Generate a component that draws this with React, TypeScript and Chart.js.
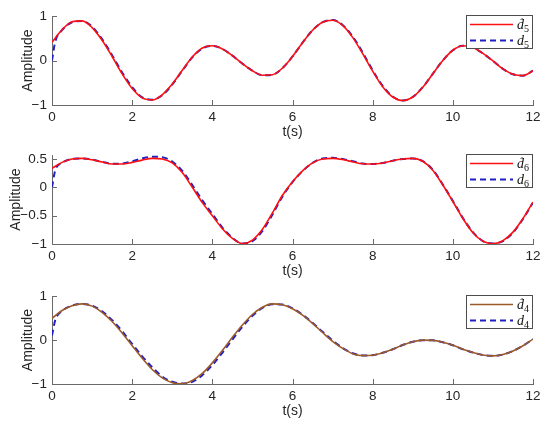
import React, { useEffect, useRef } from "react";
import { Chart, registerables } from "chart.js";

Chart.register(...registerables);

// ---------- data ----------
const time = [
  0, 0.25, 0.5, 0.75, 1, 1.25, 1.5, 1.75, 2, 2.25, 2.5, 2.75, 3, 3.25, 3.5, 3.75,
  4, 4.25, 4.5, 4.75, 5, 5.25, 5.5, 5.75, 6, 6.25, 6.5, 6.75, 7, 7.25, 7.5, 7.75,
  8, 8.25, 8.5, 8.75, 9, 9.25, 9.5, 9.75, 10, 10.25, 10.5, 10.75, 11, 11.25, 11.5, 11.75, 12,
];
// the dashed (actual) signals have one extra early sample
const timeDashed = [0, 0.08, ...time.slice(1)];

const xTicks = [0, 2, 4, 6, 8, 10, 12];
const yTicksA = [-1, 0, 1];
const yTicksB = [-1, -0.5, 0, 0.5];
const yTicksC = [-1, 0, 1];

const d5Est = [
  0.41, 0.69, 0.87, 0.89, 0.74, 0.455, 0.09, -0.3, -0.63, -0.84, -0.886, -0.77, -0.53, -0.22, 0.08, 0.28,
  0.33, 0.26, 0.11, -0.07, -0.23, -0.33, -0.32, -0.17, 0.09, 0.4, 0.68, 0.86, 0.905, 0.79, 0.52, 0.155,
  -0.24, -0.59, -0.82, -0.9, -0.82, -0.6, -0.3, 0.0, 0.23, 0.33, 0.29, 0.16, -0.01, -0.19, -0.31, -0.34, -0.23,
];
const d5Act = [
  0.0, 0.42, 0.68, 0.86, 0.89, 0.76, 0.48, 0.12, -0.27, -0.6, -0.83, -0.88, -0.78, -0.54, -0.23, 0.07, 0.27,
  0.33, 0.26, 0.11, -0.07, -0.23, -0.33, -0.32, -0.17, 0.09, 0.4, 0.68, 0.86, 0.91, 0.8, 0.54, 0.18,
  -0.22, -0.57, -0.81, -0.9, -0.82, -0.6, -0.3, 0.0, 0.23, 0.33, 0.29, 0.16, -0.01, -0.19, -0.31, -0.34, -0.23,
];

const d6Est = [
  0.335, 0.44, 0.5, 0.51, 0.485, 0.445, 0.41, 0.41, 0.44, 0.48, 0.51, 0.5, 0.43, 0.26, 0.0, -0.27,
  -0.5, -0.73, -0.9, -0.995, -0.93, -0.74, -0.45, -0.14, 0.1, 0.29, 0.43, 0.5, 0.51, 0.49, 0.45, 0.415,
  0.41, 0.43, 0.47, 0.5, 0.51, 0.46, 0.3, 0.04, -0.25, -0.55, -0.8, -0.95, -0.995, -0.94, -0.79, -0.55, -0.26,
];
const d6Act = [
  0.0, 0.3, 0.43, 0.5, 0.51, 0.49, 0.45, 0.415, 0.42, 0.46, 0.51, 0.54, 0.53, 0.455, 0.29, 0.04, -0.23,
  -0.47, -0.71, -0.89, -0.99, -0.95, -0.77, -0.48, -0.16, 0.09, 0.285, 0.43, 0.51, 0.52, 0.5, 0.46, 0.42,
  0.41, 0.43, 0.47, 0.5, 0.51, 0.46, 0.31, 0.05, -0.24, -0.54, -0.79, -0.95, -0.99, -0.95, -0.8, -0.56, -0.27,
];

const d4Est = [
  0.49, 0.67, 0.78, 0.82, 0.77, 0.63, 0.42, 0.16, -0.13, -0.415, -0.67, -0.86, -0.97, -0.995, -0.92, -0.76,
  -0.52, -0.24, 0.06, 0.34, 0.58, 0.745, 0.82, 0.8, 0.71, 0.565, 0.38, 0.17, -0.03, -0.19, -0.31, -0.355,
  -0.345, -0.29, -0.21, -0.115, -0.04, -0.003, -0.008, -0.05, -0.12, -0.21, -0.285, -0.34, -0.36, -0.33, -0.25, -0.13, 0.02,
];
const d4Act = [
  0.1, 0.45, 0.66, 0.78, 0.82, 0.78, 0.65, 0.45, 0.2, -0.09, -0.37, -0.62, -0.83, -0.95, -0.99, -0.95, -0.8,
  -0.57, -0.29, 0.01, 0.3, 0.55, 0.73, 0.815, 0.805, 0.72, 0.575, 0.39, 0.185, -0.01, -0.18, -0.3, -0.35,
  -0.345, -0.29, -0.21, -0.115, -0.04, -0.003, -0.008, -0.05, -0.12, -0.21, -0.285, -0.34, -0.36, -0.33, -0.25, -0.13, 0.02,
];

// ---------- styles ----------
const FONT = '"Liberation Sans", Arial, Helvetica, sans-serif';
const SERIF = '"Liberation Serif", "DejaVu Serif", serif';
const AXIS = "#6a6a6a";
const TEXT = "#262626";
const RED = "#ff1010";
const BROWN = "#9c5a28";
const BLUE = "#1f1fc4";

type Spec = {
  T: number;
  H: number;
  areaTop: number;
  yMin: number;
  yMax: number;
  yTicks: number[];
  est: number[];
  act: number[];
  estColor: string;
  sub: string;
  titlePad: number;
};

const X_AXIS_H = 38;

const specs: Spec[] = [
  { T: 0, H: 105 + X_AXIS_H, areaTop: 16, yMin: -1, yMax: 1, yTicks: yTicksA, est: d5Est, act: d5Act, estColor: RED, sub: "5", titlePad: 19.6 },
  { T: 139, H: 244 - 139 + X_AXIS_H, areaTop: 155, yMin: -1, yMax: 0.57, yTicks: yTicksB, est: d6Est, act: d6Act, estColor: RED, sub: "6", titlePad: 8 },
  { T: 280, H: 384 - 280 + X_AXIS_H, areaTop: 296, yMin: -1, yMax: 1, yTicks: yTicksC, est: d4Est, act: d4Act, estColor: BROWN, sub: "4", titlePad: 19.6 },
];

const inwardTicks = {
  id: "inwardTicks",
  afterDraw(chart: any) {
    const { ctx, chartArea: a, scales } = chart;
    const x = scales.x;
    const y = scales.y;
    ctx.save();
    ctx.strokeStyle = AXIS;
    ctx.lineWidth = 1;
    ctx.beginPath();
    x.ticks.forEach((t: any) => {
      const px = Math.round(x.getPixelForValue(t.value)) + 0.5;
      ctx.moveTo(px, a.bottom);
      ctx.lineTo(px, a.bottom - 5);
    });
    y.ticks.forEach((t: any) => {
      const py = Math.round(y.getPixelForValue(t.value)) + 0.5;
      ctx.moveTo(a.left, py);
      ctx.lineTo(a.left + 5, py);
    });
    ctx.stroke();
    ctx.restore();
  },
};

function makeLegend(spec: Spec) {
  return {
    id: "mathLegend",
    afterDraw(chart: any) {
      const { ctx, chartArea: a } = chart;
      const w = 67;
      const h = 34;
      const left = a.right - w;
      const top = a.top - 1;
      ctx.save();
      ctx.fillStyle = "#ffffff";
      ctx.fillRect(left, top, w, h);
      ctx.strokeStyle = "#4d4d4d";
      ctx.lineWidth = 1;
      ctx.strokeRect(left + 0.5, top + 0.5, w - 1, h - 1);

      const rows = [top + 9.5, top + 25.5];
      ctx.lineWidth = 1.5;
      ctx.strokeStyle = spec.estColor;
      ctx.setLineDash([]);
      ctx.beginPath();
      ctx.moveTo(left + 4, rows[0]);
      ctx.lineTo(left + 47, rows[0]);
      ctx.stroke();
      ctx.lineWidth = 2;
      ctx.strokeStyle = BLUE;
      ctx.setLineDash([6, 4]);
      ctx.beginPath();
      ctx.moveTo(left + 4, rows[1]);
      ctx.lineTo(left + 47, rows[1]);
      ctx.stroke();
      ctx.setLineDash([]);

      ctx.fillStyle = "#111";
      ctx.textBaseline = "alphabetic";
      ctx.textAlign = "left";
      rows.forEach((ry, i) => {
        const tx = left + 51;
        ctx.font = `italic 14px ${SERIF}`;
        ctx.fillText("d", tx, ry + 4.5);
        const dw = ctx.measureText("d").width;
        if (i === 0) {
          ctx.font = `11px ${SERIF}`;
          ctx.textAlign = "center";
          ctx.fillText("\u02C6", tx + dw / 2 + 1.5, ry + 1);
          ctx.textAlign = "left";
        }
        ctx.font = `10px ${SERIF}`;
        ctx.fillText(spec.sub, tx + dw, ry + 7.5);
      });
      ctx.restore();
    },
  };
}

function Panel({ spec }: { spec: Spec }) {
  const ref = useRef<HTMLCanvasElement>(null);
  useEffect(() => {
    const canvas = ref.current;
    if (!canvas) return;
    const chart = new Chart(canvas, {
      type: "line",
      data: {
        datasets: [
          {
            data: time.map((x, i) => ({ x, y: spec.est[i] })),
            borderColor: spec.estColor,
            borderWidth: 1.6,
            pointRadius: 0,
            cubicInterpolationMode: "monotone",
          },
          {
            data: timeDashed.map((x, i) => ({ x, y: spec.act[i] })),
            borderColor: BLUE,
            borderWidth: 2,
            borderDash: [6, 4],
            pointRadius: 0,
            cubicInterpolationMode: "monotone",
          },
        ],
      } as any,
      options: {
        animation: false,
        responsive: false,
        maintainAspectRatio: false,
        devicePixelRatio: 1,
        layout: { padding: { top: spec.areaTop - spec.T, right: 17, left: 0, bottom: 0 } },
        plugins: { legend: { display: false }, tooltip: { enabled: false } },
        scales: {
          x: {
            type: "linear",
            min: 0,
            max: 12,
            afterBuildTicks: (s: any) => {
              s.ticks = xTicks.map((v) => ({ value: v }));
            },
            afterFit: (s: any) => {
              s.height = X_AXIS_H;
            },
            grid: { display: false, drawTicks: false },
            border: { display: true, color: AXIS, width: 1 },
            ticks: {
              padding: 4,
              color: TEXT,
              font: { family: FONT, size: 13.5 },
              maxRotation: 0,
              autoSkip: false,
            },
            title: {
              display: true,
              text: "t(s)",
              color: TEXT,
              font: { family: FONT, size: 14 },
              padding: { top: 0, bottom: 2.6 },
            },
          },
          y: {
            type: "linear",
            min: spec.yMin,
            max: spec.yMax,
            afterBuildTicks: (s: any) => {
              s.ticks = spec.yTicks.map((v) => ({ value: v }));
            },
            afterFit: (s: any) => {
              s.width = 52;
            },
            grid: { display: false, drawTicks: false },
            border: { display: true, color: AXIS, width: 1 },
            ticks: {
              padding: 5,
              color: TEXT,
              font: { family: FONT, size: 13.5 },
              autoSkip: false,
              callback: (v: any) => String(v).replace("-", "\u2212"),
            },
            title: {
              display: true,
              text: "Amplitude",
              color: TEXT,
              font: { family: FONT, size: 14 },
              padding: { top: spec.titlePad, bottom: 0 },
            },
          },
        },
      } as any,
      plugins: [inwardTicks, makeLegend(spec)],
    });
    return () => chart.destroy();
  }, [spec]);
  return (
    <canvas
      ref={ref}
      width={550}
      height={spec.H}
      style={{ position: "absolute", left: 0, top: spec.T, width: 550, height: spec.H }}
    />
  );
}

export default function App() {
  return (
    <div style={{ position: "fixed", left: 0, top: 0, width: 550, height: 430, background: "#fff" }}>
      {specs.map((s, i) => (
        <Panel key={i} spec={s} />
      ))}
    </div>
  );
}
